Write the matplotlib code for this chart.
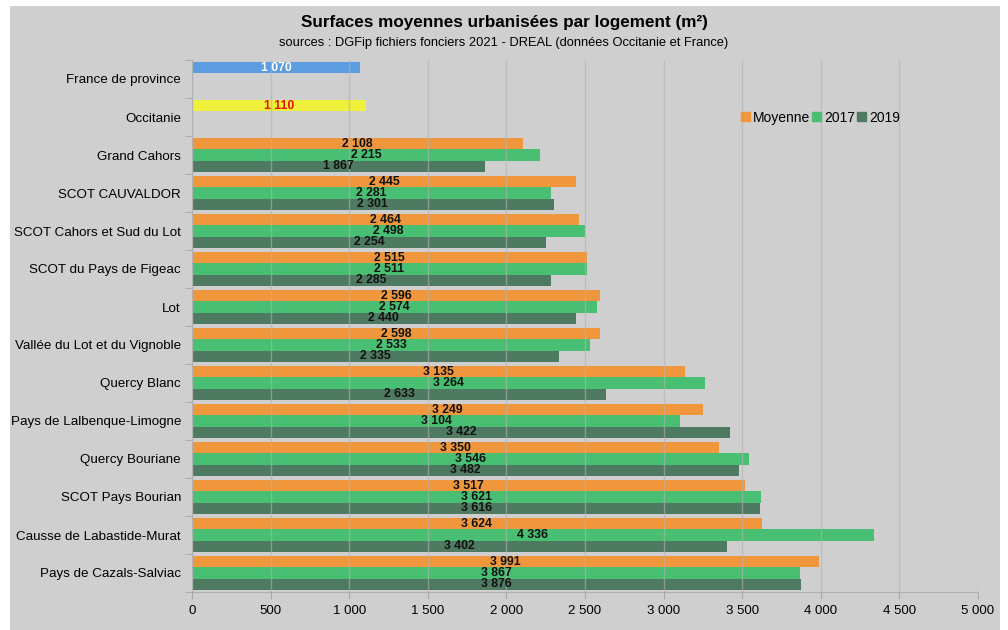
import matplotlib
matplotlib.use("Agg")
import matplotlib.pyplot as plt
import numpy as np
from matplotlib.patches import Rectangle, Patch
from matplotlib.ticker import FuncFormatter

plt.rcParams['font.family'] = ['Liberation Sans', 'DejaVu Sans']

# ------------------------------------------------------------
# données (haut -> bas)
# ------------------------------------------------------------
territoires = [
    "France de province", "Occitanie", "Grand Cahors", "SCOT CAUVALDOR",
    "SCOT Cahors et Sud du Lot", "SCOT du Pays de Figeac", "Lot",
    "Vallée du Lot et du Vignoble", "Quercy Blanc", "Pays de Lalbenque-Limogne",
    "Quercy Bouriane", "SCOT Pays Bourian", "Causse de Labastide-Murat",
    "Pays de Cazals-Salviac",
]
moyenne = [1070, 1110, 2108, 2445, 2464, 2515, 2596, 2598, 3135, 3249, 3350, 3517, 3624, 3991]
an2017 = [None, None, 2215, 2281, 2498, 2511, 2574, 2533, 3264, 3104, 3546, 3621, 4336, 3867]
an2019 = [None, None, 1867, 2301, 2254, 2285, 2440, 2335, 2633, 3422, 3482, 3616, 3402, 3876]

# couleurs spéciales pour les deux références
couleurs_ref = {0: "#5b9de0", 1: "#eff03a"}
couleurs_txt_ref = {0: "white", 1: "#e8120c"}

ORANGE = "#f0963c"
VERT = "#48bf72"
VERT_FONCE = "#4e7a62"
FOND = "#cfcfcf"


def fmt_fr(v):
    return f"{int(v):,}".replace(",", " ")


fig = plt.figure(figsize=(10.08, 6.3), dpi=100)
fig.patches.append(Rectangle((10 / 1008, 0), 990 / 1008, 624 / 630,
                             transform=fig.transFigure, facecolor=FOND,
                             edgecolor="none", zorder=-10))

ax = fig.add_axes([192 / 1008, 38 / 630, 786 / 1008, 532 / 630])
ax.set_facecolor(FOND)

n = len(territoires)
y = np.arange(n)
h = 0.29
lbl = dict(ha="center", va="center", fontsize=8.8, fontweight="bold", zorder=4)

for i in range(n):
    # barre "Moyenne" (ou référence)
    c = couleurs_ref.get(i, ORANGE)
    tc = couleurs_txt_ref.get(i, "#111111")
    yy = y[i] - h
    ax.barh(yy, moyenne[i], height=h, color=c, zorder=2)
    ax.text(moyenne[i] / 2, yy, fmt_fr(moyenne[i]), color=tc, **lbl)
    if an2017[i] is not None:
        ax.barh(y[i], an2017[i], height=h, color=VERT, zorder=2)
        ax.text(an2017[i] / 2, y[i], fmt_fr(an2017[i]), color="#111111", **lbl)
    if an2019[i] is not None:
        ax.barh(y[i] + h, an2019[i], height=h, color=VERT_FONCE, zorder=2)
        ax.text(an2019[i] / 2, y[i] + h, fmt_fr(an2019[i]), color="#111111", **lbl)

ax.set_ylim(n - 0.5, -0.5)
ax.set_xlim(0, 5000)
ax.set_xticks(np.arange(0, 5001, 500))
ax.xaxis.set_major_formatter(FuncFormatter(lambda v, p: fmt_fr(v)))
ax.set_yticks(y)
ax.set_yticklabels(territoires, fontsize=9.6)
ax.set_yticks(np.arange(-0.5, n, 1), minor=True)
ax.tick_params(axis="y", which="major", length=0, pad=8)
ax.tick_params(axis="y", which="minor", length=5, color="#aaaaaa")
ax.tick_params(axis="x", length=5, color="#aaaaaa", labelsize=9.5, pad=4)

ax.grid(axis="x", color="#b3b3b3", linewidth=1, alpha=0.6, zorder=3)
ax.set_axisbelow(False)
for s in ["top", "right"]:
    ax.spines[s].set_visible(False)
ax.spines["left"].set_color("#b0b0b0")
ax.spines["bottom"].set_color("#b0b0b0")

# légende
handles = [Patch(color=ORANGE, label="Moyenne"), Patch(color=VERT, label="2017"),
           Patch(color=VERT_FONCE, label="2019")]
ax.legend(handles=handles, loc="upper left", bbox_to_anchor=(0.69, 0.918),
          ncol=3, frameon=False, fontsize=10, handlelength=0.6, handleheight=0.6,
          handletextpad=0.25, columnspacing=0.15, borderpad=0)

fig.text(0.5, 1 - 22 / 630, "Surfaces moyennes urbanisées par logement (m²)",
         ha="center", va="center", fontsize=12.3, fontweight="bold")
fig.text(0.5, 1 - 43 / 630,
         "sources : DGFip fichiers fonciers 2021 - DREAL (données Occitanie et France)",
         ha="center", va="center", fontsize=9.3)

fig.savefig("out.png", dpi=100)
